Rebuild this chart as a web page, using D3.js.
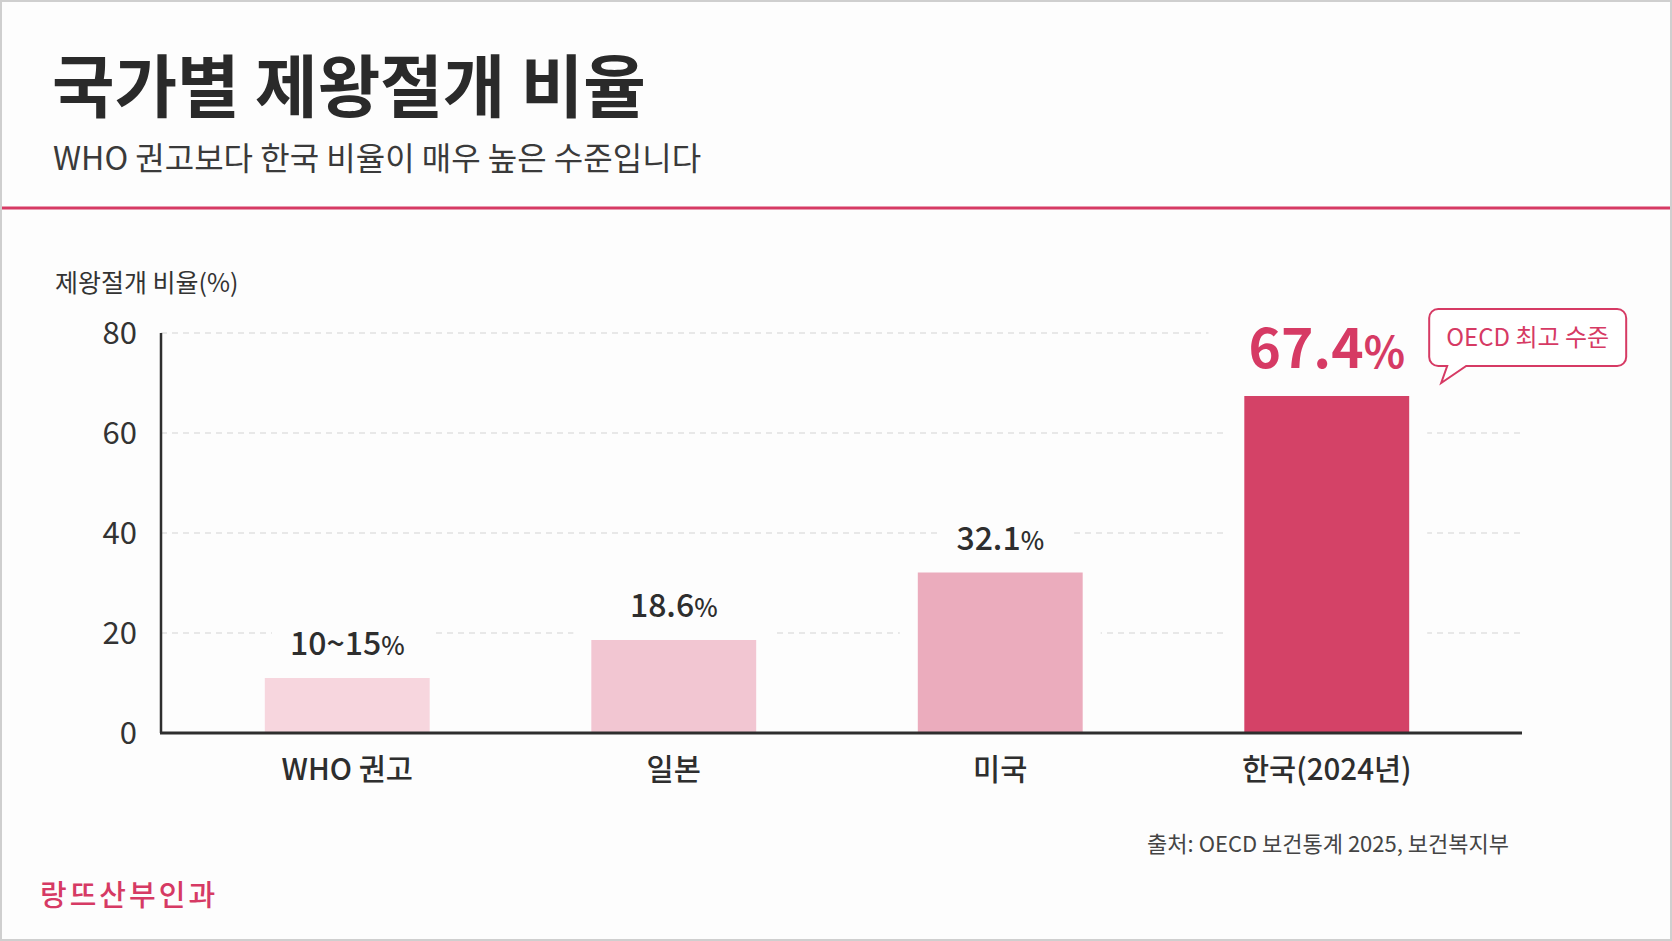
<!DOCTYPE html>
<html>
<head>
<meta charset="utf-8">
<script src="https://cdn.jsdelivr.net/npm/d3@7"></script>
<style>
  body { margin: 0; background: #fff; }
  svg { display: block; font-family: "Noto Sans CJK KR", "Noto Sans", sans-serif; }
</style>
</head>
<body>
<script>
// 데이터
const categories = ["WHO 권고", "일본", "미국", "한국(2024년)"];
const values = [11, 18.6, 32.1, 67.4];
const valueLabels = ["10~15", "18.6", "32.1", "67.4"];
const yTicks = [0, 20, 40, 60, 80];
const barColors = ["#f7d6de", "#f2c6d2", "#ebacbd", "#d44267"];

const W = 1672, H = 941;
const pink = "#d63a64";

const svg = d3.select("body").append("svg")
    .attr("width", W)
    .attr("height", H);

// 배경 + 테두리
svg.append("rect")
    .attr("x", 1).attr("y", 1)
    .attr("width", W - 2).attr("height", H - 2)
    .attr("fill", "#fdfdfd")
    .attr("stroke", "#cfcfcf")
    .attr("stroke-width", 2);

// 제목
svg.append("text")
    .attr("x", 52).attr("y", 112)
    .attr("font-size", 68)
    .attr("font-weight", 700)
    .attr("fill", "#2a2a2a")
    .text("국가별 제왕절개 비율");

svg.append("text")
    .attr("x", 53).attr("y", 170)
    .attr("font-size", 32)
    .attr("fill", "#3a3a3a")
    .text("WHO 권고보다 한국 비율이 매우 높은 수준입니다");

svg.append("line")
    .attr("x1", 2).attr("x2", W - 2)
    .attr("y1", 208).attr("y2", 208)
    .attr("stroke", pink)
    .attr("stroke-width", 3);

// 스케일
const x = d3.scaleBand()
    .domain(categories)
    .range([184, 1490])
    .paddingInner(0.495)
    .paddingOuter(0.2475);

const y = d3.scaleLinear()
    .domain([0, 80])
    .range([733, 333]);

const xLeft = 161, xRight = 1522;

// y축 제목
svg.append("text")
    .attr("x", 55).attr("y", 292)
    .attr("font-size", 25)
    .attr("fill", "#333")
    .text("제왕절개 비율(%)");

// 그리드
svg.append("g")
    .selectAll("line")
    .data(yTicks.filter(d => d > 0))
    .join("line")
    .attr("x1", xLeft).attr("x2", xRight)
    .attr("y1", d => y(d)).attr("y2", d => y(d))
    .attr("stroke", "#d4d4d4")
    .attr("stroke-width", 1.2)
    .attr("stroke-dasharray", "6 5");

// y 눈금 라벨
svg.append("g")
    .selectAll("text")
    .data(yTicks)
    .join("text")
    .attr("x", 137)
    .attr("y", d => y(d))
    .attr("dy", "0.36em")
    .attr("text-anchor", "end")
    .attr("font-size", 31)
    .attr("fill", "#333")
    .text(d => d);

const rows = categories.map((c, i) => ({ c, v: values[i], label: valueLabels[i], color: barColors[i], i }));
const last = rows.length - 1;

// 막대 주변 흰 여백(그리드 가림)
svg.append("g")
    .selectAll("rect")
    .data(rows)
    .join("rect")
    .attr("x", d => x(d.c) - 18)
    .attr("y", d => y(d.v) - 16)
    .attr("width", x.bandwidth() + 36)
    .attr("height", d => y(0) - y(d.v) + 16)
    .attr("fill", "#fdfdfd");

// 값 라벨
const labelG = svg.append("g");
const labels = labelG.selectAll("text")
    .data(rows)
    .join("text")
    .attr("x", d => x(d.c) + x.bandwidth() / 2)
    .attr("y", d => y(d.v) - (d.i === last ? 28 : 23))
    .attr("text-anchor", "middle")
    .attr("font-size", d => d.i === last ? 55 : 32)
    .attr("font-weight", d => d.i === last ? 700 : 500)
    .attr("fill", d => d.i === last ? pink : "#2e2e2e");
labels.append("tspan").text(d => d.label);
labels.append("tspan").attr("font-size", "0.78em").text("%");

labels.each(function(d) {
    const b = this.getBBox();
    const padL = d.i === last ? 40 : 18;
    labelG.insert("rect", "text")
        .attr("x", b.x - padL)
        .attr("y", b.y)
        .attr("width", b.width + padL + 30)
        .attr("height", b.height)
        .attr("fill", "#fdfdfd");
});

// 막대
svg.append("g")
    .selectAll("rect")
    .data(rows)
    .join("rect")
    .attr("x", d => x(d.c))
    .attr("y", d => y(d.v))
    .attr("width", x.bandwidth())
    .attr("height", d => y(0) - y(d.v))
    .attr("fill", d => d.color);

// 축
svg.append("line")
    .attr("x1", xLeft).attr("x2", xLeft)
    .attr("y1", y(80)).attr("y2", y(0))
    .attr("stroke", "#2e2e2e").attr("stroke-width", 2.5);
svg.append("line")
    .attr("x1", xLeft - 1).attr("x2", xRight)
    .attr("y1", y(0)).attr("y2", y(0))
    .attr("stroke", "#2e2e2e").attr("stroke-width", 3);

// x 라벨
svg.append("g")
    .selectAll("text")
    .data(categories)
    .join("text")
    .attr("x", d => x(d) + x.bandwidth() / 2)
    .attr("y", 780)
    .attr("text-anchor", "middle")
    .attr("font-size", 29.5)
    .attr("font-weight", 500)
    .attr("fill", "#2e2e2e")
    .text(d => d);

// 말풍선
const bx = x(categories[last]) + x.bandwidth() + 20;
const by = y(80) - 24;
const bw = 197, bh = 57, r = 9;
const tail = [bx + 18, bx + 37, bx + 12, by + bh + 17];
const p = d3.path();
p.moveTo(bx + r, by);
p.lineTo(bx + bw - r, by);
p.arcTo(bx + bw, by, bx + bw, by + r, r);
p.lineTo(bx + bw, by + bh - r);
p.arcTo(bx + bw, by + bh, bx + bw - r, by + bh, r);
p.lineTo(tail[1], by + bh);
p.lineTo(tail[2], tail[3]);
p.lineTo(tail[0], by + bh);
p.lineTo(bx + r, by + bh);
p.arcTo(bx, by + bh, bx, by + bh - r, r);
p.lineTo(bx, by + r);
p.arcTo(bx, by, bx + r, by, r);
p.closePath();
svg.append("path")
    .attr("d", p.toString())
    .attr("fill", "#fff")
    .attr("stroke", pink)
    .attr("stroke-width", 2);
svg.append("text")
    .attr("x", bx + bw / 2)
    .attr("y", by + bh / 2)
    .attr("dy", "0.36em")
    .attr("text-anchor", "middle")
    .attr("font-size", 24)
    .attr("fill", pink)
    .text("OECD 최고 수준");

// 출처
svg.append("text")
    .attr("x", 1509).attr("y", 852)
    .attr("text-anchor", "end")
    .attr("font-size", 22)
    .attr("fill", "#444")
    .text("출처: OECD 보건통계 2025, 보건복지부");

// 로고
svg.append("text")
    .attr("x", 40).attr("y", 906)
    .attr("font-size", 29)
    .attr("font-weight", 500)
    .attr("letter-spacing", 3)
    .attr("fill", pink)
    .text("랑뜨산부인과");
</script>
</body>
</html>
